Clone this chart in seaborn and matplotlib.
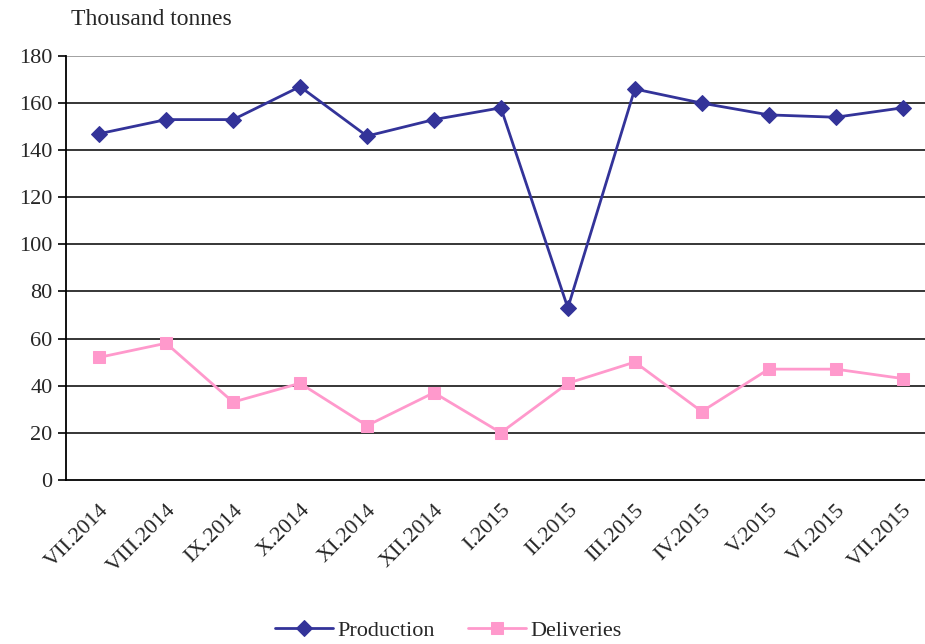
import numpy as np
import pandas as pd
import matplotlib
matplotlib.use("Agg")
import matplotlib.pyplot as plt
import seaborn as sns

# Data
months = ["VII.2014", "VIII.2014", "IX.2014", "X.2014", "XI.2014", "XII.2014",
          "I.2015", "II.2015", "III.2015", "IV.2015", "V.2015", "VI.2015", "VII.2015"]
production = [147, 153, 153, 167, 146, 153, 158, 73, 166, 160, 155, 154, 158]
deliveries = [52, 58, 33, 41, 23, 37, 20, 41, 50, 29, 47, 47, 43]

df = pd.DataFrame({"month": months, "Production": production, "Deliveries": deliveries})
df["pos"] = np.arange(len(months))

sns.set_style("white")
plt.rcParams["font.family"] = ["Liberation Serif", "DejaVu Serif"]

fig, ax = plt.subplots(figsize=(9.25, 6.44), dpi=100)
fig.subplots_adjust(left=0.071, right=1.012, top=0.913, bottom=0.255)

sns.lineplot(data=df, x="pos", y="Production", ax=ax, color="#333399", marker="D",
             markersize=8, markeredgecolor="#333399", linewidth=2, label="Production")
sns.lineplot(data=df, x="pos", y="Deliveries", ax=ax, color="#FF99CC", marker="s",
             markersize=8, markeredgecolor="#FF99CC", linewidth=2, label="Deliveries")

ax.set_xlim(-0.5, len(months) - 0.5)
ax.set_ylim(0, 180)
ax.set_yticks(range(0, 181, 20))
ax.set_xticks(df["pos"])
ax.set_xticklabels(months, rotation=45, ha="right", rotation_mode="anchor", fontsize=16)
ax.set_xticks(np.arange(-0.5, len(months), 1), minor=True)
ax.tick_params(axis="x", which="major", length=0, pad=15)
ax.tick_params(axis="x", which="minor", length=6, width=1.2, color="black", direction="out")
ax.tick_params(axis="y", length=6, width=1.2, color="black", direction="out", labelsize=16, left=True)

for y in range(20, 181, 20):
    ax.axhline(y, color="black" if y < 180 else "#888888", linewidth=1.1, zorder=0)

ax.set_xlabel("")
ax.set_ylabel("")
for s in ["top", "right"]:
    ax.spines[s].set_visible(False)
ax.spines["left"].set_color("black")
ax.spines["bottom"].set_color("black")
ax.spines["left"].set_linewidth(1.3)
ax.spines["bottom"].set_linewidth(1.3)

fig.text(0.077, 0.953, "Thousand tonnes", fontsize=17, ha="left", va="bottom")

ax.legend(loc="upper center", bbox_to_anchor=(0.44, -0.285), ncol=2, frameon=False,
          fontsize=16, handlelength=2.6, columnspacing=1.5, handletextpad=0.2)

fig.savefig("out.png", dpi=100)
